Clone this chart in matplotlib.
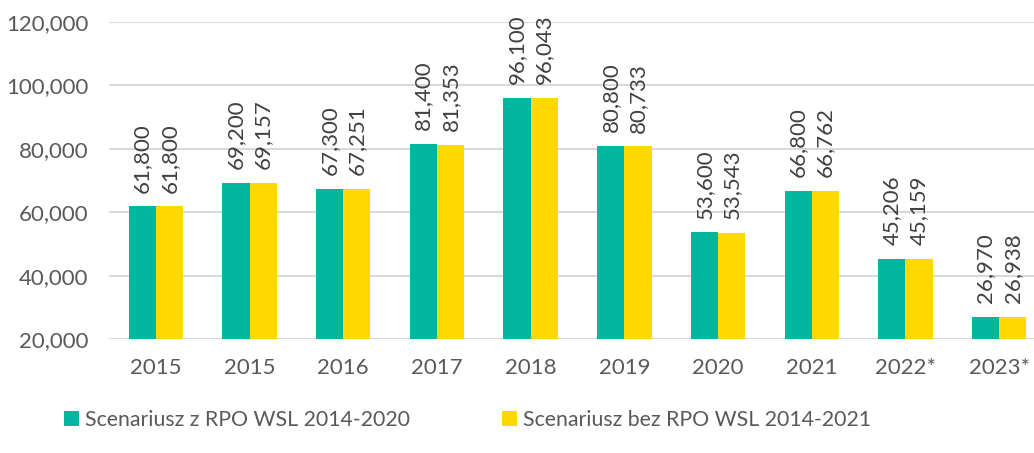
import matplotlib
matplotlib.use("Agg")
import matplotlib.pyplot as plt
import numpy as np
from matplotlib.ticker import FuncFormatter

plt.rcParams['font.family'] = ['Lato', 'DejaVu Sans']

years = ["2015", "2015", "2016", "2017", "2018", "2019", "2020", "2021", "2022*", "2023*"]
with_rpo = [61800, 69200, 67300, 81400, 96100, 80800, 53600, 66800, 45206, 26970]
without_rpo = [61800, 69157, 67251, 81353, 96043, 80733, 53543, 66762, 45159, 26938]
labels = ["Scenariusz z RPO WSL 2014-2020", "Scenariusz bez RPO WSL 2014-2021"]

teal = "#00B69E"
yellow = "#FFD800"
text_col = "#595959"

fig = plt.figure(figsize=(10.34, 4.53), dpi=100)
ax = fig.add_axes([109 / 1034, 1 - 339 / 453, 937 / 1034, 317 / 453])

x = np.arange(len(years))
w = 0.29
b1 = ax.bar(x - w / 2, np.array(with_rpo) - 20000, w, bottom=20000, color=teal, label=labels[0])
b2 = ax.bar(x + w / 2, np.array(without_rpo) - 20000, w, bottom=20000, color=yellow, label=labels[1])

for xs, vals in [(x - w / 2, with_rpo), (x + w / 2, without_rpo)]:
    for xi, v in zip(xs, vals):
        ax.annotate(f"{v:,}", (xi, v), xytext=(0, 10), textcoords="offset points",
                    rotation=90, ha="center", va="bottom", fontsize=16, color="#404040")

ax.set_ylim(20000, 120000)
ax.set_xlim(-0.5, len(years) - 0.5)
ax.set_yticks(range(20000, 120001, 20000))
ax.yaxis.set_major_formatter(FuncFormatter(lambda v, p: f"{int(v):,}"))
ax.set_xticks(x)
ax.set_xticklabels(years)
ax.tick_params(length=0, labelsize=16, colors=text_col)
ax.tick_params(axis="x", pad=14)
ax.tick_params(axis="y", pad=15)
ax.grid(axis="y", color="#D9D9D9", linewidth=1.5)
ax.set_axisbelow(True)
for s in ax.spines.values():
    s.set_visible(False)

fig.legend(handles=[b1, b2], labels=labels, loc="upper left", bbox_to_anchor=(45 / 1034, 1 - 391 / 453),
           ncol=2, frameon=False, fontsize=15.3, handlelength=0.7, handleheight=0.7,
           handletextpad=0.3, columnspacing=4.3, labelcolor=text_col)

fig.savefig("out.png", dpi=100)
